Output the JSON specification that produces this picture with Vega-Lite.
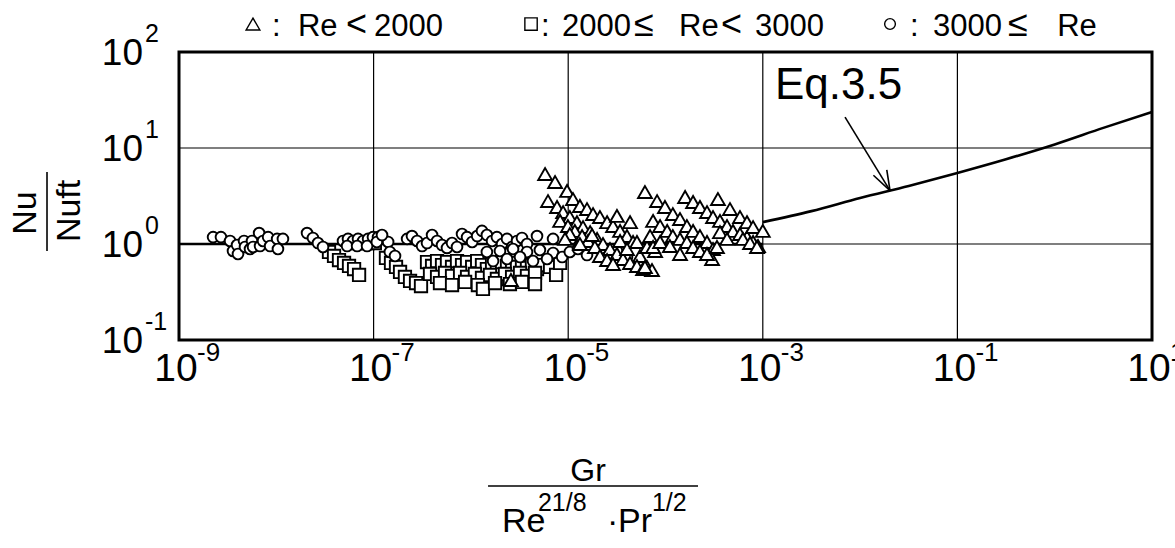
{
  "$schema": "https://vega.github.io/schema/vega-lite/v6.json",
  "width": 973,
  "height": 288,
  "autosize": {"type": "none"},
  "padding": {"left": 179, "top": 52, "right": 23, "bottom": 208},
  "background": "white",
  "config": {
    "view": {"stroke": "black", "strokeWidth": 3}
  },
  "datasets": {
    "points": [
      {"regime": "2000<=Re<3000", "x": 3.48e-8, "y": 0.826},
      {"regime": "2000<=Re<3000", "x": 3.92e-8, "y": 0.75},
      {"regime": "2000<=Re<3000", "x": 4.41e-8, "y": 0.681},
      {"regime": "2000<=Re<3000", "x": 4.97e-8, "y": 0.634},
      {"regime": "2000<=Re<3000", "x": 5.59e-8, "y": 0.59},
      {"regime": "2000<=Re<3000", "x": 6.30e-8, "y": 0.549},
      {"regime": "2000<=Re<3000", "x": 7.09e-8, "y": 0.476},
      {"regime": "2000<=Re<3000", "x": 1.34e-7, "y": 0.715},
      {"regime": "2000<=Re<3000", "x": 1.51e-7, "y": 0.634},
      {"regime": "2000<=Re<3000", "x": 1.70e-7, "y": 0.576},
      {"regime": "2000<=Re<3000", "x": 1.87e-7, "y": 0.511},
      {"regime": "2000<=Re<3000", "x": 2.10e-7, "y": 0.4535},
      {"regime": "2000<=Re<3000", "x": 2.37e-7, "y": 0.412},
      {"regime": "2000<=Re<3000", "x": 2.73e-7, "y": 0.392},
      {"regime": "2000<=Re<3000", "x": 3.07e-7, "y": 0.365},
      {"regime": "2000<=Re<3000", "x": 6.88e-8, "y": 1.024},
      {"regime": "2000<=Re<3000", "x": 8.72e-8, "y": 1.024},
      {"regime": "2000<=Re<3000", "x": 1.03e-7, "y": 1.024},
      {"regime": "2000<=Re<3000", "x": 3.54e-7, "y": 0.649},
      {"regime": "2000<=Re<3000", "x": 3.99e-7, "y": 0.59},
      {"regime": "2000<=Re<3000", "x": 4.49e-7, "y": 0.665},
      {"regime": "2000<=Re<3000", "x": 5.05e-7, "y": 0.604},
      {"regime": "2000<=Re<3000", "x": 5.68e-7, "y": 0.649},
      {"regime": "2000<=Re<3000", "x": 6.40e-7, "y": 0.576},
      {"regime": "2000<=Re<3000", "x": 7.20e-7, "y": 0.665},
      {"regime": "2000<=Re<3000", "x": 8.11e-7, "y": 0.604},
      {"regime": "2000<=Re<3000", "x": 9.13e-7, "y": 0.649},
      {"regime": "2000<=Re<3000", "x": 1.03e-6, "y": 0.576},
      {"regime": "2000<=Re<3000", "x": 1.16e-6, "y": 0.665},
      {"regime": "2000<=Re<3000", "x": 1.30e-6, "y": 0.604},
      {"regime": "2000<=Re<3000", "x": 1.46e-6, "y": 0.549},
      {"regime": "2000<=Re<3000", "x": 1.65e-6, "y": 0.619},
      {"regime": "2000<=Re<3000", "x": 1.85e-6, "y": 0.576},
      {"regime": "2000<=Re<3000", "x": 2.09e-6, "y": 0.649},
      {"regime": "2000<=Re<3000", "x": 2.35e-6, "y": 0.59},
      {"regime": "2000<=Re<3000", "x": 2.65e-6, "y": 0.634},
      {"regime": "2000<=Re<3000", "x": 2.98e-6, "y": 0.576},
      {"regime": "2000<=Re<3000", "x": 3.35e-6, "y": 0.619},
      {"regime": "2000<=Re<3000", "x": 3.77e-6, "y": 0.562},
      {"regime": "2000<=Re<3000", "x": 4.24e-6, "y": 0.604},
      {"regime": "2000<=Re<3000", "x": 4.78e-6, "y": 0.549},
      {"regime": "2000<=Re<3000", "x": 5.38e-6, "y": 0.604},
      {"regime": "2000<=Re<3000", "x": 3.80e-7, "y": 0.487},
      {"regime": "2000<=Re<3000", "x": 4.49e-7, "y": 0.4535},
      {"regime": "2000<=Re<3000", "x": 5.42e-7, "y": 0.499},
      {"regime": "2000<=Re<3000", "x": 6.40e-7, "y": 0.465},
      {"regime": "2000<=Re<3000", "x": 7.74e-7, "y": 0.499},
      {"regime": "2000<=Re<3000", "x": 9.13e-7, "y": 0.4535},
      {"regime": "2000<=Re<3000", "x": 1.10e-6, "y": 0.487},
      {"regime": "2000<=Re<3000", "x": 1.30e-6, "y": 0.443},
      {"regime": "2000<=Re<3000", "x": 1.57e-6, "y": 0.476},
      {"regime": "2000<=Re<3000", "x": 1.85e-6, "y": 0.432},
      {"regime": "2000<=Re<3000", "x": 2.24e-6, "y": 0.487},
      {"regime": "2000<=Re<3000", "x": 2.65e-6, "y": 0.4535},
      {"regime": "2000<=Re<3000", "x": 3.20e-6, "y": 0.499},
      {"regime": "2000<=Re<3000", "x": 3.77e-6, "y": 0.465},
      {"regime": "2000<=Re<3000", "x": 4.56e-6, "y": 0.499},
      {"regime": "2000<=Re<3000", "x": 4.81e-7, "y": 0.392},
      {"regime": "2000<=Re<3000", "x": 6.40e-7, "y": 0.374},
      {"regime": "2000<=Re<3000", "x": 8.72e-7, "y": 0.402},
      {"regime": "2000<=Re<3000", "x": 1.18e-6, "y": 0.374},
      {"regime": "2000<=Re<3000", "x": 1.33e-6, "y": 0.34},
      {"regime": "2000<=Re<3000", "x": 1.77e-6, "y": 0.392},
      {"regime": "2000<=Re<3000", "x": 2.52e-6, "y": 0.383},
      {"regime": "2000<=Re<3000", "x": 3.35e-6, "y": 0.402},
      {"regime": "2000<=Re<3000", "x": 4.56e-6, "y": 0.383},
      {"regime": "2000<=Re<3000", "x": 6.51e-6, "y": 0.576},
      {"regime": "2000<=Re<3000", "x": 7.51e-6, "y": 0.476},
      {"regime": "2000<=Re<3000", "x": 8.26e-6, "y": 0.634},

      {"regime": "3000<=Re", "x": 2.24e-9, "y": 1.18},
      {"regime": "3000<=Re", "x": 2.70e-9, "y": 1.18},
      {"regime": "3000<=Re", "x": 3.35e-9, "y": 1.075},
      {"regime": "3000<=Re", "x": 3.59e-9, "y": 0.846},
      {"regime": "3000<=Re", "x": 3.95e-9, "y": 0.976},
      {"regime": "3000<=Re", "x": 4.04e-9, "y": 0.787},
      {"regime": "3000<=Re", "x": 4.66e-9, "y": 1.075},
      {"regime": "3000<=Re", "x": 4.77e-9, "y": 0.931},
      {"regime": "3000<=Re", "x": 5.37e-9, "y": 0.887},
      {"regime": "3000<=Re", "x": 5.63e-9, "y": 1.075},
      {"regime": "3000<=Re", "x": 5.77e-9, "y": 0.931},
      {"regime": "3000<=Re", "x": 6.66e-9, "y": 1.3},
      {"regime": "3000<=Re", "x": 6.81e-9, "y": 0.953},
      {"regime": "3000<=Re", "x": 7.31e-9, "y": 1.075},
      {"regime": "3000<=Re", "x": 8.24e-9, "y": 1.18},
      {"regime": "3000<=Re", "x": 8.64e-9, "y": 0.953},
      {"regime": "3000<=Re", "x": 1.02e-8, "y": 1.13},
      {"regime": "3000<=Re", "x": 1.04e-8, "y": 0.887},
      {"regime": "3000<=Re", "x": 1.17e-8, "y": 1.13},
      {"regime": "3000<=Re", "x": 2.07e-8, "y": 1.3},
      {"regime": "3000<=Re", "x": 2.38e-8, "y": 1.155},
      {"regime": "3000<=Re", "x": 2.68e-8, "y": 1.024},
      {"regime": "3000<=Re", "x": 3.02e-8, "y": 0.931},
      {"regime": "3000<=Re", "x": 4.85e-8, "y": 1.075},
      {"regime": "3000<=Re", "x": 5.46e-8, "y": 1.13},
      {"regime": "3000<=Re", "x": 6.15e-8, "y": 1.075},
      {"regime": "3000<=Re", "x": 6.92e-8, "y": 1.13},
      {"regime": "3000<=Re", "x": 7.80e-8, "y": 1.075},
      {"regime": "3000<=Re", "x": 8.78e-8, "y": 1.13},
      {"regime": "3000<=Re", "x": 9.85e-8, "y": 1.18},
      {"regime": "3000<=Re", "x": 1.11e-7, "y": 1.18},
      {"regime": "3000<=Re", "x": 1.25e-7, "y": 1.13},
      {"regime": "3000<=Re", "x": 1.41e-7, "y": 1.05},
      {"regime": "3000<=Re", "x": 5.34e-8, "y": 0.953},
      {"regime": "3000<=Re", "x": 6.77e-8, "y": 0.953},
      {"regime": "3000<=Re", "x": 8.57e-8, "y": 0.953},
      {"regime": "3000<=Re", "x": 1.08e-7, "y": 1.05},
      {"regime": "3000<=Re", "x": 1.22e-7, "y": 1.24},
      {"regime": "3000<=Re", "x": 1.47e-7, "y": 0.826},
      {"regime": "3000<=Re", "x": 1.66e-7, "y": 0.75},
      {"regime": "3000<=Re", "x": 2.21e-7, "y": 1.13},
      {"regime": "3000<=Re", "x": 2.48e-7, "y": 1.21},
      {"regime": "3000<=Re", "x": 2.80e-7, "y": 1.075},
      {"regime": "3000<=Re", "x": 3.15e-7, "y": 0.953},
      {"regime": "3000<=Re", "x": 3.54e-7, "y": 1.024},
      {"regime": "3000<=Re", "x": 3.99e-7, "y": 1.24},
      {"regime": "3000<=Re", "x": 4.49e-7, "y": 1.075},
      {"regime": "3000<=Re", "x": 5.05e-7, "y": 0.976},
      {"regime": "3000<=Re", "x": 5.68e-7, "y": 0.91},
      {"regime": "3000<=Re", "x": 6.40e-7, "y": 1.024},
      {"regime": "3000<=Re", "x": 7.20e-7, "y": 0.931},
      {"regime": "3000<=Re", "x": 8.11e-7, "y": 1.27},
      {"regime": "3000<=Re", "x": 9.13e-7, "y": 1.18},
      {"regime": "3000<=Re", "x": 1.03e-6, "y": 1.05},
      {"regime": "3000<=Re", "x": 1.16e-6, "y": 1.21},
      {"regime": "3000<=Re", "x": 1.30e-6, "y": 1.37},
      {"regime": "3000<=Re", "x": 1.46e-6, "y": 1.24},
      {"regime": "3000<=Re", "x": 1.65e-6, "y": 1.075},
      {"regime": "3000<=Re", "x": 1.85e-6, "y": 1.18},
      {"regime": "3000<=Re", "x": 2.09e-6, "y": 1.0},
      {"regime": "3000<=Re", "x": 2.35e-6, "y": 1.13},
      {"regime": "3000<=Re", "x": 2.65e-6, "y": 0.931},
      {"regime": "3000<=Re", "x": 2.98e-6, "y": 1.075},
      {"regime": "3000<=Re", "x": 3.35e-6, "y": 1.155},
      {"regime": "3000<=Re", "x": 3.77e-6, "y": 1.0},
      {"regime": "3000<=Re", "x": 4.78e-6, "y": 1.21},
      {"regime": "3000<=Re", "x": 6.99e-6, "y": 1.13},
      {"regime": "3000<=Re", "x": 1.46e-6, "y": 0.826},
      {"regime": "3000<=Re", "x": 1.99e-6, "y": 0.846},
      {"regime": "3000<=Re", "x": 2.71e-6, "y": 0.887},
      {"regime": "3000<=Re", "x": 3.77e-6, "y": 0.826},
      {"regime": "3000<=Re", "x": 5.12e-6, "y": 0.866},
      {"regime": "3000<=Re", "x": 6.99e-6, "y": 0.806},
      {"regime": "3000<=Re", "x": 8.67e-6, "y": 0.732},
      {"regime": "3000<=Re", "x": 6.06e-6, "y": 0.698},
      {"regime": "3000<=Re", "x": 4.35e-6, "y": 0.665},
      {"regime": "3000<=Re", "x": 3.20e-6, "y": 0.732},
      {"regime": "3000<=Re", "x": 2.35e-6, "y": 0.698},
      {"regime": "3000<=Re", "x": 1.69e-6, "y": 0.665},
      {"regime": "3000<=Re", "x": 1.04e-5, "y": 0.826},
      {"regime": "3000<=Re", "x": 1.26e-5, "y": 0.887},
      {"regime": "3000<=Re", "x": 1.56e-5, "y": 0.768},
      {"regime": "3000<=Re", "x": 1.98e-5, "y": 0.91},
      {"regime": "3000<=Re", "x": 2.51e-5, "y": 0.732},
      {"regime": "3000<=Re", "x": 3.17e-5, "y": 0.846},
      {"regime": "3000<=Re", "x": 4.02e-5, "y": 0.732},

      {"regime": "Re<2000", "x": 5.79e-6, "y": 5.36},
      {"regime": "Re<2000", "x": 7.33e-6, "y": 4.42},
      {"regime": "Re<2000", "x": 9.73e-6, "y": 3.57},
      {"regime": "Re<2000", "x": 1.12e-5, "y": 2.94},
      {"regime": "Re<2000", "x": 1.32e-5, "y": 2.49},
      {"regime": "Re<2000", "x": 1.56e-5, "y": 2.31},
      {"regime": "Re<2000", "x": 1.80e-5, "y": 2.05},
      {"regime": "Re<2000", "x": 2.12e-5, "y": 1.91},
      {"regime": "Re<2000", "x": 2.51e-5, "y": 1.69},
      {"regime": "Re<2000", "x": 2.89e-5, "y": 1.54},
      {"regime": "Re<2000", "x": 3.41e-5, "y": 1.37},
      {"regime": "Re<2000", "x": 4.02e-5, "y": 1.21},
      {"regime": "Re<2000", "x": 4.64e-5, "y": 1.05},
      {"regime": "Re<2000", "x": 5.47e-5, "y": 0.75},
      {"regime": "Re<2000", "x": 6.46e-5, "y": 0.576},
      {"regime": "Re<2000", "x": 7.27e-5, "y": 0.536},
      {"regime": "Re<2000", "x": 6.20e-6, "y": 2.8},
      {"regime": "Re<2000", "x": 7.68e-6, "y": 2.43},
      {"regime": "Re<2000", "x": 8.86e-6, "y": 2.15},
      {"regime": "Re<2000", "x": 1.04e-5, "y": 1.91},
      {"regime": "Re<2000", "x": 1.23e-5, "y": 1.69},
      {"regime": "Re<2000", "x": 1.42e-5, "y": 1.5},
      {"regime": "Re<2000", "x": 1.68e-5, "y": 1.33},
      {"regime": "Re<2000", "x": 1.98e-5, "y": 1.13},
      {"regime": "Re<2000", "x": 2.28e-5, "y": 1.0},
      {"regime": "Re<2000", "x": 2.69e-5, "y": 0.887},
      {"regime": "Re<2000", "x": 3.17e-5, "y": 0.787},
      {"regime": "Re<2000", "x": 3.66e-5, "y": 0.698},
      {"regime": "Re<2000", "x": 4.32e-5, "y": 0.634},
      {"regime": "Re<2000", "x": 5.09e-5, "y": 0.59},
      {"regime": "Re<2000", "x": 5.88e-5, "y": 0.549},
      {"regime": "Re<2000", "x": 8.26e-6, "y": 1.74},
      {"regime": "Re<2000", "x": 9.94e-6, "y": 1.54},
      {"regime": "Re<2000", "x": 1.17e-5, "y": 1.37},
      {"regime": "Re<2000", "x": 1.39e-5, "y": 1.21},
      {"regime": "Re<2000", "x": 1.60e-5, "y": 1.075},
      {"regime": "Re<2000", "x": 1.88e-5, "y": 0.931},
      {"regime": "Re<2000", "x": 2.12e-5, "y": 0.75},
      {"regime": "Re<2000", "x": 2.51e-5, "y": 0.681},
      {"regime": "Re<2000", "x": 2.89e-5, "y": 0.619},
      {"regime": "Re<2000", "x": 1.04e-5, "y": 1.27},
      {"regime": "Re<2000", "x": 1.32e-5, "y": 1.0},
      {"regime": "Re<2000", "x": 1.76e-5, "y": 1.24},
      {"regime": "Re<2000", "x": 3.17e-5, "y": 1.96},
      {"regime": "Re<2000", "x": 4.32e-5, "y": 1.69},
      {"regime": "Re<2000", "x": 3.41e-5, "y": 1.075},
      {"regime": "Re<2000", "x": 4.02e-5, "y": 0.887},
      {"regime": "Re<2000", "x": 5.09e-5, "y": 1.05},
      {"regime": "Re<2000", "x": 6.46e-5, "y": 0.931},
      {"regime": "Re<2000", "x": 7.82e-5, "y": 0.846},
      {"regime": "Re<2000", "x": 2.58e-6, "y": 0.422},
      {"regime": "Re<2000", "x": 9.27e-6, "y": 1.13},
      {"regime": "Re<2000", "x": 6.15e-5, "y": 3.48},
      {"regime": "Re<2000", "x": 8.19e-5, "y": 2.8},
      {"regime": "Re<2000", "x": 9.87e-5, "y": 2.43},
      {"regime": "Re<2000", "x": 1.19e-4, "y": 2.05},
      {"regime": "Re<2000", "x": 1.41e-4, "y": 1.82},
      {"regime": "Re<2000", "x": 1.66e-4, "y": 1.54},
      {"regime": "Re<2000", "x": 1.92e-4, "y": 1.37},
      {"regime": "Re<2000", "x": 2.26e-4, "y": 1.21},
      {"regime": "Re<2000", "x": 2.67e-4, "y": 1.05},
      {"regime": "Re<2000", "x": 3.08e-4, "y": 0.887},
      {"regime": "Re<2000", "x": 3.01e-4, "y": 0.698},
      {"regime": "Re<2000", "x": 1.59e-4, "y": 3.09},
      {"regime": "Re<2000", "x": 1.92e-4, "y": 2.74},
      {"regime": "Re<2000", "x": 2.26e-4, "y": 2.43},
      {"regime": "Re<2000", "x": 2.67e-4, "y": 2.15},
      {"regime": "Re<2000", "x": 3.08e-4, "y": 1.91},
      {"regime": "Re<2000", "x": 3.63e-4, "y": 1.74},
      {"regime": "Re<2000", "x": 4.29e-4, "y": 1.54},
      {"regime": "Re<2000", "x": 4.94e-4, "y": 1.37},
      {"regime": "Re<2000", "x": 5.83e-4, "y": 1.27},
      {"regime": "Re<2000", "x": 6.88e-4, "y": 1.18},
      {"regime": "Re<2000", "x": 7.94e-4, "y": 1.05},
      {"regime": "Re<2000", "x": 8.94e-4, "y": 0.953},
      {"regime": "Re<2000", "x": 3.46e-4, "y": 2.94},
      {"regime": "Re<2000", "x": 4.60e-4, "y": 2.31},
      {"regime": "Re<2000", "x": 5.83e-4, "y": 1.91},
      {"regime": "Re<2000", "x": 6.88e-4, "y": 1.69},
      {"regime": "Re<2000", "x": 7.94e-4, "y": 1.5},
      {"regime": "Re<2000", "x": 1.0e-3, "y": 1.37},
      {"regime": "Re<2000", "x": 7.45e-5, "y": 1.74},
      {"regime": "Re<2000", "x": 8.80e-5, "y": 1.54},
      {"regime": "Re<2000", "x": 1.04e-4, "y": 1.37},
      {"regime": "Re<2000", "x": 1.19e-4, "y": 1.21},
      {"regime": "Re<2000", "x": 1.41e-4, "y": 1.13},
      {"regime": "Re<2000", "x": 1.66e-4, "y": 1.05},
      {"regime": "Re<2000", "x": 1.92e-4, "y": 0.931},
      {"regime": "Re<2000", "x": 2.26e-4, "y": 0.846},
      {"regime": "Re<2000", "x": 2.67e-4, "y": 0.787},
      {"regime": "Re<2000", "x": 6.94e-5, "y": 1.21},
      {"regime": "Re<2000", "x": 7.45e-5, "y": 0.931},
      {"regime": "Re<2000", "x": 8.80e-5, "y": 1.05},
      {"regime": "Re<2000", "x": 1.11e-4, "y": 0.953},
      {"regime": "Re<2000", "x": 1.41e-4, "y": 0.787},
      {"regime": "Re<2000", "x": 3.63e-4, "y": 1.33},
      {"regime": "Re<2000", "x": 4.29e-4, "y": 1.13},
      {"regime": "Re<2000", "x": 6.25e-4, "y": 1.13},
      {"regime": "Re<2000", "x": 7.40e-4, "y": 1.024},
      {"regime": "Re<2000", "x": 8.72e-4, "y": 0.931},
      {"regime": "Re<2000", "x": 6.15e-5, "y": 0.576},
      {"regime": "Re<2000", "x": 3.38e-4, "y": 0.931}
    ],
    "eq35": [
      {"x": 1e-3, "y": 1.69},
      {"x": 3.16e-3, "y": 2.2},
      {"x": 1e-2, "y": 3.02},
      {"x": 3.16e-2, "y": 4.03},
      {"x": 0.1, "y": 5.5},
      {"x": 0.316, "y": 7.64},
      {"x": 1, "y": 10.9},
      {"x": 3.16, "y": 16.2},
      {"x": 10, "y": 23.7}
    ],
    "unity": [{"x": 1e-9, "y": 1}, {"x": 1e-3, "y": 1}],
    "arrow": [
      {"x": 7.0e-3, "y": 21.0, "x2": 2.03e-2, "y2": 3.6},
      {"x": 1.37e-2, "y": 5.2, "x2": 2.03e-2, "y2": 3.6},
      {"x": 1.88e-2, "y": 5.9, "x2": 2.03e-2, "y2": 3.6}
    ],
    "xticks": [
      {"v": 1e-9, "e": "-9"}, {"v": 1e-7, "e": "-7"}, {"v": 1e-5, "e": "-5"},
      {"v": 1e-3, "e": "-3"}, {"v": 0.1, "e": "-1"}, {"v": 10, "e": "1"}
    ],
    "yticks": [
      {"v": 0.1, "e": "-1"}, {"v": 1, "e": "0"}, {"v": 10, "e": "1"}, {"v": 100, "e": "2"}
    ],
    "ytitle": [
      {"t": "Nu", "x": 2.68e-11, "y": 2.1},
      {"t": "Nuft", "x": 7.59e-11, "y": 2.21}
    ],
    "xtitle": [
      {"t": "Re", "x": 2.09e-6},
      {"t": "·", "x": 2.5e-5},
      {"t": "Pr", "x": 3.25e-5}
    ],
    "xtitleSup": [
      {"t": "21/8", "x": 4.89e-6},
      {"t": "1/2", "x": 7.26e-5}
    ],
    "keySymbols": [
      {"regime": "Re<2000", "x": 5.76e-9},
      {"regime": "2000<=Re<3000", "x": 4.15e-6},
      {"regime": "3000<=Re", "x": 2.03e-2}
    ],
    "keyText": [
      {"t": ":", "x": 9.04e-9},
      {"t": "Re", "x": 1.67e-8},
      {"t": "2000", "x": 1.01e-7},
      {"t": ":", "x": 5.25e-6},
      {"t": "2000", "x": 8.64e-6},
      {"t": "Re", "x": 1.38e-4},
      {"t": "3000", "x": 8.32e-4},
      {"t": ":", "x": 3.26e-2},
      {"t": "3000", "x": 5.61e-2},
      {"t": "Re", "x": 1.06}
    ],
    "keyRel": [
      {"t": "<", "x": 5.2e-8},
      {"t": "≤", "x": 4.74e-5},
      {"t": "<", "x": 3.72e-4},
      {"t": "≤", "x": 0.331}
    ]
  },
  "layer": [
    {
      "data": {"name": "xticks"},
      "mark": {"type": "rule", "color": "black", "strokeWidth": 1.2},
      "encoding": {
        "x": {"field": "v", "type": "quantitative", "axis": null,
              "scale": {"type": "log", "domain": [1e-9, 10], "nice": false}}
      }
    },
    {
      "data": {"name": "yticks"},
      "mark": {"type": "rule", "color": "black", "strokeWidth": 1.2},
      "encoding": {
        "y": {"field": "v", "type": "quantitative", "axis": null,
              "scale": {"type": "log", "domain": [0.1, 100], "nice": false}}
      }
    },
    {
      "data": {"name": "unity"},
      "mark": {"type": "line", "color": "black", "strokeWidth": 2.6},
      "encoding": {
        "x": {"field": "x", "type": "quantitative", "axis": null},
        "y": {"field": "y", "type": "quantitative", "axis": null}
      }
    },
    {
      "data": {"name": "eq35"},
      "mark": {"type": "line", "color": "black", "strokeWidth": 2.6, "interpolate": "monotone"},
      "encoding": {
        "x": {"field": "x", "type": "quantitative", "axis": null},
        "y": {"field": "y", "type": "quantitative", "axis": null}
      }
    },
    {
      "data": {"name": "points"},
      "mark": {"type": "point", "filled": true, "fill": "white", "stroke": "black", "strokeWidth": 1.9, "opacity": 1},
      "encoding": {
        "x": {"field": "x", "type": "quantitative", "axis": null},
        "y": {"field": "y", "type": "quantitative", "axis": null},
        "shape": {"field": "regime", "type": "nominal", "legend": null,
                  "scale": {"domain": ["Re<2000", "2000<=Re<3000", "3000<=Re"], "range": ["triangle-up", "square", "circle"]}},
        "size": {"field": "regime", "type": "ordinal", "legend": null,
                 "scale": {"domain": ["Re<2000", "2000<=Re<3000", "3000<=Re"], "range": [190, 115, 120]}}
      }
    },
    {
      "data": {"name": "arrow"},
      "mark": {"type": "rule", "color": "black", "strokeWidth": 1.6},
      "encoding": {
        "x": {"field": "x", "type": "quantitative", "axis": null},
        "y": {"field": "y", "type": "quantitative", "axis": null},
        "x2": {"field": "x2"},
        "y2": {"field": "y2"}
      }
    },
    {
      "data": {"values": [{"label": "Eq.3.5"}]},
      "mark": {"type": "text", "font": "Liberation Sans, Arial, sans-serif", "fontSize": 44, "align": "left", "baseline": "alphabetic", "color": "black"},
      "encoding": {
        "x": {"datum": 1.334e-3, "type": "quantitative", "axis": null},
        "y": {"datum": 32.4, "type": "quantitative", "axis": null},
        "text": {"field": "label", "type": "nominal"}
      }
    },
    {
      "data": {"name": "xticks"},
      "mark": {"type": "text", "text": "10", "font": "Liberation Sans, Arial, sans-serif", "fontSize": 39, "align": "center", "baseline": "alphabetic", "dx": -3, "dy": 41, "color": "black"},
      "encoding": {
        "x": {"field": "v", "type": "quantitative", "axis": null},
        "y": {"datum": 0.1, "type": "quantitative", "axis": null}
      }
    },
    {
      "data": {"name": "xticks"},
      "mark": {"type": "text", "font": "Liberation Sans, Arial, sans-serif", "fontSize": 26, "align": "left", "baseline": "alphabetic", "dx": 18, "dy": 21, "color": "black"},
      "encoding": {
        "x": {"field": "v", "type": "quantitative", "axis": null},
        "y": {"datum": 0.1, "type": "quantitative", "axis": null},
        "text": {"field": "e", "type": "nominal"}
      }
    },
    {
      "data": {"name": "yticks"},
      "mark": {"type": "text", "text": "10", "font": "Liberation Sans, Arial, sans-serif", "fontSize": 37, "align": "right", "baseline": "alphabetic", "dx": -36, "dy": 13, "color": "black"},
      "encoding": {
        "x": {"datum": 1e-9, "type": "quantitative", "axis": null},
        "y": {"field": "v", "type": "quantitative", "axis": null}
      }
    },
    {
      "data": {"name": "yticks"},
      "mark": {"type": "text", "font": "Liberation Sans, Arial, sans-serif", "fontSize": 25, "align": "left", "baseline": "alphabetic", "dx": -34, "dy": -10, "color": "black"},
      "encoding": {
        "x": {"datum": 1e-9, "type": "quantitative", "axis": null},
        "y": {"field": "v", "type": "quantitative", "axis": null},
        "text": {"field": "e", "type": "nominal"}
      }
    },
    {
      "data": {"name": "ytitle"},
      "mark": {"type": "text", "font": "Liberation Sans, Arial, sans-serif", "fontSize": 34, "align": "center", "baseline": "middle", "color": "black"},
      "encoding": {
        "x": {"field": "x", "type": "quantitative", "axis": null},
        "y": {"field": "y", "type": "quantitative", "axis": null},
        "text": {"field": "t", "type": "nominal"},
        "angle": {"value": 270}
      }
    },
    {
      "data": {"values": [{}]},
      "mark": {"type": "rule", "color": "black", "strokeWidth": 1.6},
      "encoding": {
        "x": {"datum": 4.4e-11, "type": "quantitative", "axis": null},
        "y": {"datum": 5.62, "type": "quantitative", "axis": null},
        "y2": {"datum": 0.846}
      }
    },
    {
      "data": {"values": [{"label": "Gr"}]},
      "mark": {"type": "text", "font": "Liberation Sans, Arial, sans-serif", "fontSize": 32, "align": "center", "baseline": "alphabetic", "color": "black"},
      "encoding": {
        "x": {"datum": 1.6e-5, "type": "quantitative", "axis": null},
        "y": {"datum": 3.4e-3, "type": "quantitative", "axis": null},
        "text": {"field": "label", "type": "nominal"}
      }
    },
    {
      "data": {"values": [{}]},
      "mark": {"type": "rule", "color": "black", "strokeWidth": 1.6},
      "encoding": {
        "x": {"datum": 1.5e-6, "type": "quantitative", "axis": null},
        "x2": {"datum": 2.16e-4},
        "y": {"datum": 3.01e-3, "type": "quantitative", "axis": null}
      }
    },
    {
      "data": {"name": "xtitle"},
      "mark": {"type": "text", "font": "Liberation Sans, Arial, sans-serif", "fontSize": 34, "align": "left", "baseline": "alphabetic", "color": "black"},
      "encoding": {
        "x": {"field": "x", "type": "quantitative", "axis": null},
        "y": {"datum": 1e-3, "type": "quantitative", "axis": null},
        "text": {"field": "t", "type": "nominal"}
      }
    },
    {
      "data": {"name": "xtitleSup"},
      "mark": {"type": "text", "font": "Liberation Sans, Arial, sans-serif", "fontSize": 25, "align": "left", "baseline": "alphabetic", "color": "black"},
      "encoding": {
        "x": {"field": "x", "type": "quantitative", "axis": null},
        "y": {"datum": 1.66e-3, "type": "quantitative", "axis": null},
        "text": {"field": "t", "type": "nominal"}
      }
    },
    {
      "data": {"name": "keySymbols"},
      "mark": {"type": "point", "filled": true, "fill": "white", "stroke": "black", "strokeWidth": 1.4, "opacity": 1},
      "encoding": {
        "x": {"field": "x", "type": "quantitative", "axis": null},
        "y": {"datum": 195.7, "type": "quantitative", "axis": null},
        "shape": {"field": "regime", "type": "nominal", "legend": null},
        "size": {"field": "regime", "type": "ordinal", "legend": null}
      }
    },
    {
      "data": {"name": "keyText"},
      "mark": {"type": "text", "font": "Liberation Sans, Arial, sans-serif", "fontSize": 31, "align": "left", "baseline": "alphabetic", "color": "black"},
      "encoding": {
        "x": {"field": "x", "type": "quantitative", "axis": null},
        "y": {"datum": 146.8, "type": "quantitative", "axis": null},
        "text": {"field": "t", "type": "nominal"}
      }
    },
    {
      "data": {"name": "keyRel"},
      "mark": {"type": "text", "font": "Liberation Sans, Arial, sans-serif", "fontSize": 36, "align": "left", "baseline": "alphabetic", "color": "black"},
      "encoding": {
        "x": {"field": "x", "type": "quantitative", "axis": null},
        "y": {"datum": 146.8, "type": "quantitative", "axis": null},
        "text": {"field": "t", "type": "nominal"}
      }
    }
  ]
}
